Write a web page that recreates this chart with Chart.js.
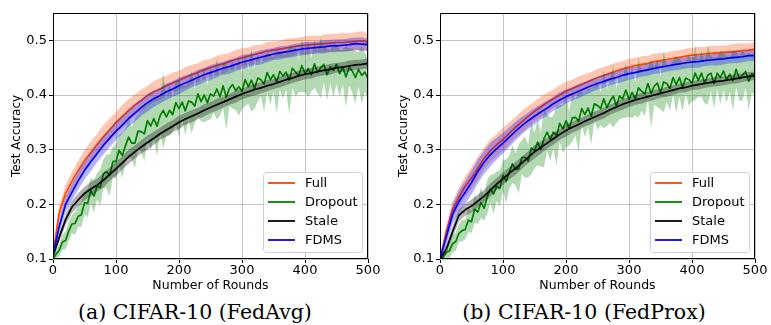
<!DOCTYPE html>
<html>
<head>
<meta charset="utf-8">
<script src="https://cdn.jsdelivr.net/npm/chart.js@4.4.1/dist/chart.umd.min.js"></script>
<style>
  html, body { margin: 0; padding: 0; background: #fff; }
  #wrap { position: relative; width: 771px; height: 325px; overflow: hidden; background: #fff; }
  canvas { position: absolute; top: 0; }
  #cvA { left: 0; }
  #cvB { left: 387px; }
  .caption { position: absolute; top: 301px; width: 300px; text-align: center; line-height: 22px;
    font-family: "DejaVu Serif", serif; font-size: 20.5px; color: #000; white-space: nowrap; }
</style>
</head>
<body>
<div id="wrap">
  <canvas id="cvA" width="385" height="300"></canvas>
  <canvas id="cvB" width="384" height="300"></canvas>
  <div class="caption" style="left:45px">(a) CIFAR-10 (FedAvg)</div>
  <div class="caption" style="left:434px">(b) CIFAR-10 (FedProx)</div>
</div>
<script>
// rounds sampled every 10 (smooth curves) and every 5 (noisy dropout curve)
const rounds = [
  0, 10, 20, 30, 40, 50, 60, 70, 80, 90,
  100, 110, 120, 130, 140, 150, 160, 170, 180, 190,
  200, 210, 220, 230, 240, 250, 260, 270, 280, 290,
  300, 310, 320, 330, 340, 350, 360, 370, 380, 390,
  400, 410, 420, 430, 440, 450, 460, 470, 480, 490,
  500];
const roundsFine = [
  0, 5, 10, 15, 20, 25, 30, 35, 40, 45,
  50, 55, 60, 65, 70, 75, 80, 85, 90, 95,
  100, 105, 110, 115, 120, 125, 130, 135, 140, 145,
  150, 155, 160, 165, 170, 175, 180, 185, 190, 195,
  200, 205, 210, 215, 220, 225, 230, 235, 240, 245,
  250, 255, 260, 265, 270, 275, 280, 285, 290, 295,
  300, 305, 310, 315, 320, 325, 330, 335, 340, 345,
  350, 355, 360, 365, 370, 375, 380, 385, 390, 395,
  400, 405, 410, 415, 420, 425, 430, 435, 440, 445,
  450, 455, 460, 465, 470, 475, 480, 485, 490, 495,
  500];

const xTicks = [0, 100, 200, 300, 400, 500];
const yTicks = [0.1, 0.2, 0.3, 0.4, 0.5];

const seriesNames = ['Full', 'Dropout', 'Stale', 'FDMS'];
const lineColors = ['#ff4500', '#008000', '#000000', '#0000ff'];
const bandColors = ['rgba(255,69,0,0.3)', 'rgba(0,128,0,0.3)', 'rgba(0,0,0,0.3)', 'rgba(0,0,255,0.3)'];

// ---- (a) FedAvg ----
const avgFull = [
  0.110, 0.185, 0.220, 0.242, 0.262, 0.280, 0.295, 0.310, 0.324, 0.337,
  0.350, 0.361, 0.372, 0.382, 0.390, 0.399, 0.406, 0.411, 0.417, 0.422,
  0.427, 0.432, 0.437, 0.441, 0.446, 0.450, 0.454, 0.457, 0.461, 0.465,
  0.468, 0.471, 0.474, 0.477, 0.480, 0.482, 0.484, 0.486, 0.488, 0.490,
  0.491, 0.492, 0.493, 0.494, 0.495, 0.496, 0.496, 0.497, 0.498, 0.499,
  0.497];
const avgFullStd = [
  0.006, 0.014, 0.016, 0.017, 0.018, 0.019, 0.020, 0.019, 0.021, 0.020,
  0.019, 0.021, 0.020, 0.019, 0.020, 0.018, 0.019, 0.020, 0.018, 0.019,
  0.017, 0.019, 0.018, 0.017, 0.018, 0.016, 0.018, 0.017, 0.016, 0.018,
  0.017, 0.016, 0.017, 0.015, 0.017, 0.016, 0.015, 0.017, 0.016, 0.015,
  0.016, 0.017, 0.015, 0.016, 0.017, 0.016, 0.018, 0.016, 0.017, 0.018,
  0.016];
const avgDropout = [
  0.100, 0.109, 0.116, 0.131, 0.134, 0.151, 0.164, 0.165, 0.178, 0.181,
  0.203, 0.202, 0.225, 0.215, 0.233, 0.231, 0.256, 0.260, 0.253, 0.278,
  0.279, 0.299, 0.289, 0.307, 0.323, 0.312, 0.312, 0.334, 0.333, 0.329,
  0.353, 0.343, 0.357, 0.343, 0.362, 0.372, 0.360, 0.372, 0.364, 0.386,
  0.375, 0.387, 0.371, 0.389, 0.387, 0.380, 0.402, 0.388, 0.400, 0.386,
  0.402, 0.398, 0.411, 0.397, 0.417, 0.396, 0.412, 0.419, 0.408, 0.415,
  0.407, 0.428, 0.415, 0.427, 0.412, 0.431, 0.428, 0.420, 0.441, 0.428,
  0.437, 0.424, 0.443, 0.435, 0.442, 0.427, 0.449, 0.442, 0.435, 0.454,
  0.439, 0.448, 0.437, 0.457, 0.441, 0.450, 0.456, 0.437, 0.452, 0.445,
  0.456, 0.439, 0.451, 0.433, 0.451, 0.444, 0.432, 0.447, 0.436, 0.442,
  0.430];
const avgDropoutStd = [
  0.004, 0.008, 0.011, 0.014, 0.016, 0.018, 0.017, 0.021, 0.019, 0.023,
  0.021, 0.026, 0.023, 0.030, 0.024, 0.033, 0.026, 0.031, 0.038, 0.027,
  0.032, 0.028, 0.041, 0.030, 0.036, 0.029, 0.046, 0.031, 0.038, 0.050,
  0.030, 0.044, 0.033, 0.055, 0.032, 0.070, 0.034, 0.047, 0.031, 0.040,
  0.052, 0.030, 0.045, 0.034, 0.058, 0.031, 0.042, 0.036, 0.050, 0.032,
  0.047, 0.030, 0.056, 0.035, 0.041, 0.060, 0.032, 0.044, 0.036, 0.053,
  0.033, 0.048, 0.031, 0.057, 0.037, 0.043, 0.030, 0.051, 0.035, 0.046,
  0.031, 0.058, 0.034, 0.042, 0.032, 0.062, 0.036, 0.045, 0.030, 0.049,
  0.034, 0.052, 0.031, 0.044, 0.038, 0.055, 0.033, 0.047, 0.030, 0.050,
  0.036, 0.043, 0.032, 0.056, 0.034, 0.041, 0.048, 0.031, 0.053, 0.035,
  0.040];
const avgStale = [
  0.105, 0.140, 0.172, 0.195, 0.208, 0.220, 0.228, 0.235, 0.244, 0.255,
  0.265, 0.276, 0.287, 0.296, 0.305, 0.313, 0.321, 0.329, 0.336, 0.343,
  0.350, 0.356, 0.361, 0.366, 0.372, 0.377, 0.382, 0.387, 0.392, 0.397,
  0.402, 0.406, 0.410, 0.413, 0.417, 0.420, 0.424, 0.428, 0.431, 0.435,
  0.438, 0.440, 0.443, 0.445, 0.447, 0.450, 0.451, 0.453, 0.455, 0.456,
  0.458];
const avgStaleStd = [
  0.004, 0.008, 0.010, 0.011, 0.012, 0.012, 0.013, 0.012, 0.013, 0.012,
  0.013, 0.012, 0.013, 0.012, 0.012, 0.013, 0.012, 0.011, 0.012, 0.011,
  0.012, 0.011, 0.011, 0.010, 0.011, 0.010, 0.011, 0.010, 0.010, 0.011,
  0.010, 0.010, 0.011, 0.010, 0.010, 0.009, 0.010, 0.010, 0.009, 0.010,
  0.009, 0.010, 0.009, 0.009, 0.010, 0.009, 0.009, 0.010, 0.009, 0.009,
  0.009];
const avgFdms = [
  0.108, 0.160, 0.200, 0.222, 0.243, 0.262, 0.278, 0.293, 0.308, 0.321,
  0.334, 0.345, 0.357, 0.367, 0.377, 0.386, 0.393, 0.399, 0.406, 0.411,
  0.417, 0.422, 0.427, 0.432, 0.437, 0.441, 0.445, 0.449, 0.452, 0.456,
  0.460, 0.463, 0.466, 0.469, 0.472, 0.475, 0.477, 0.479, 0.481, 0.483,
  0.485, 0.486, 0.487, 0.488, 0.490, 0.490, 0.491, 0.492, 0.494, 0.493,
  0.492];
const avgFdmsStd = [
  0.005, 0.012, 0.014, 0.015, 0.016, 0.016, 0.017, 0.016, 0.017, 0.016,
  0.017, 0.016, 0.015, 0.016, 0.015, 0.016, 0.015, 0.014, 0.015, 0.014,
  0.015, 0.014, 0.013, 0.014, 0.013, 0.014, 0.013, 0.012, 0.013, 0.012,
  0.013, 0.012, 0.012, 0.013, 0.012, 0.011, 0.012, 0.011, 0.012, 0.011,
  0.012, 0.011, 0.011, 0.012, 0.011, 0.012, 0.011, 0.012, 0.011, 0.012,
  0.011];

// ---- (b) FedProx ----
const proxFull = [
  0.100, 0.150, 0.190, 0.213, 0.233, 0.248, 0.266, 0.284, 0.298, 0.309,
  0.319, 0.330, 0.341, 0.351, 0.361, 0.370, 0.378, 0.386, 0.393, 0.400,
  0.407, 0.412, 0.417, 0.422, 0.427, 0.432, 0.436, 0.440, 0.444, 0.448,
  0.451, 0.454, 0.456, 0.458, 0.461, 0.463, 0.465, 0.467, 0.469, 0.471,
  0.473, 0.474, 0.475, 0.476, 0.477, 0.478, 0.479, 0.480, 0.481, 0.482,
  0.484];
const proxFullStd = [
  0.005, 0.013, 0.016, 0.018, 0.019, 0.020, 0.021, 0.020, 0.021, 0.020,
  0.021, 0.020, 0.019, 0.020, 0.019, 0.018, 0.019, 0.018, 0.017, 0.018,
  0.017, 0.016, 0.017, 0.016, 0.015, 0.016, 0.015, 0.016, 0.015, 0.014,
  0.015, 0.014, 0.015, 0.014, 0.015, 0.014, 0.013, 0.014, 0.013, 0.014,
  0.013, 0.014, 0.013, 0.014, 0.013, 0.012, 0.013, 0.014, 0.013, 0.012,
  0.013];
const proxDropout = [
  0.100, 0.103, 0.112, 0.115, 0.128, 0.132, 0.147, 0.152, 0.154, 0.171,
  0.168, 0.191, 0.186, 0.203, 0.193, 0.214, 0.228, 0.219, 0.233, 0.229,
  0.253, 0.242, 0.259, 0.274, 0.264, 0.265, 0.286, 0.286, 0.279, 0.303,
  0.298, 0.314, 0.300, 0.320, 0.332, 0.319, 0.332, 0.326, 0.348, 0.338,
  0.353, 0.339, 0.358, 0.359, 0.352, 0.375, 0.364, 0.376, 0.361, 0.384,
  0.381, 0.375, 0.393, 0.377, 0.389, 0.398, 0.380, 0.398, 0.393, 0.409,
  0.392, 0.405, 0.393, 0.413, 0.407, 0.402, 0.421, 0.403, 0.416, 0.422,
  0.404, 0.424, 0.421, 0.412, 0.432, 0.419, 0.432, 0.414, 0.431, 0.428,
  0.422, 0.440, 0.427, 0.440, 0.422, 0.436, 0.440, 0.421, 0.440, 0.432,
  0.444, 0.428, 0.438, 0.426, 0.447, 0.430, 0.436, 0.443, 0.425, 0.439,
  0.436];
const proxDropoutStd = [
  0.004, 0.007, 0.010, 0.013, 0.015, 0.017, 0.016, 0.020, 0.018, 0.022,
  0.020, 0.025, 0.022, 0.028, 0.023, 0.031, 0.025, 0.036, 0.027, 0.033,
  0.028, 0.040, 0.030, 0.035, 0.029, 0.045, 0.031, 0.038, 0.030, 0.048,
  0.032, 0.042, 0.031, 0.052, 0.034, 0.040, 0.030, 0.055, 0.033, 0.044,
  0.049, 0.031, 0.043, 0.033, 0.056, 0.030, 0.041, 0.035, 0.051, 0.032,
  0.045, 0.030, 0.054, 0.034, 0.040, 0.058, 0.031, 0.043, 0.035, 0.050,
  0.032, 0.047, 0.030, 0.055, 0.036, 0.042, 0.029, 0.063, 0.034, 0.045,
  0.030, 0.056, 0.033, 0.041, 0.031, 0.052, 0.035, 0.044, 0.029, 0.048,
  0.033, 0.050, 0.030, 0.043, 0.037, 0.054, 0.032, 0.046, 0.029, 0.049,
  0.035, 0.042, 0.031, 0.055, 0.033, 0.040, 0.047, 0.030, 0.052, 0.034,
  0.038];
const proxStale = [
  0.100, 0.118, 0.150, 0.180, 0.190, 0.197, 0.206, 0.215, 0.226, 0.237,
  0.247, 0.257, 0.266, 0.276, 0.286, 0.296, 0.304, 0.312, 0.320, 0.328,
  0.335, 0.341, 0.346, 0.352, 0.357, 0.362, 0.367, 0.373, 0.378, 0.383,
  0.387, 0.391, 0.394, 0.397, 0.400, 0.403, 0.406, 0.409, 0.412, 0.414,
  0.417, 0.419, 0.421, 0.423, 0.425, 0.426, 0.428, 0.430, 0.432, 0.434,
  0.435];
const proxStaleStd = [
  0.004, 0.008, 0.010, 0.011, 0.011, 0.012, 0.012, 0.011, 0.012, 0.011,
  0.012, 0.011, 0.012, 0.011, 0.011, 0.012, 0.011, 0.010, 0.011, 0.010,
  0.011, 0.010, 0.010, 0.009, 0.010, 0.009, 0.010, 0.009, 0.009, 0.010,
  0.009, 0.009, 0.010, 0.009, 0.009, 0.008, 0.009, 0.009, 0.008, 0.009,
  0.008, 0.009, 0.008, 0.008, 0.009, 0.008, 0.008, 0.009, 0.008, 0.008,
  0.008];
const proxFdms = [
  0.100, 0.140, 0.182, 0.205, 0.222, 0.240, 0.260, 0.277, 0.291, 0.302,
  0.312, 0.323, 0.334, 0.344, 0.353, 0.361, 0.369, 0.376, 0.384, 0.391,
  0.397, 0.402, 0.407, 0.412, 0.417, 0.421, 0.425, 0.429, 0.432, 0.436,
  0.439, 0.441, 0.444, 0.446, 0.449, 0.451, 0.453, 0.455, 0.457, 0.459,
  0.460, 0.461, 0.463, 0.464, 0.465, 0.466, 0.468, 0.469, 0.470, 0.472,
  0.472];
const proxFdmsStd = [
  0.005, 0.014, 0.018, 0.020, 0.021, 0.022, 0.022, 0.021, 0.022, 0.020,
  0.019, 0.018, 0.017, 0.016, 0.015, 0.015, 0.014, 0.014, 0.013, 0.014,
  0.013, 0.012, 0.013, 0.012, 0.012, 0.011, 0.012, 0.011, 0.011, 0.012,
  0.011, 0.011, 0.010, 0.011, 0.010, 0.011, 0.010, 0.010, 0.011, 0.010,
  0.010, 0.011, 0.010, 0.010, 0.011, 0.010, 0.010, 0.011, 0.010, 0.010,
  0.010];

function pts(xs, ys) {
  return xs.map((x, i) => ({ x, y: ys[i] }));
}

// band (mean +/- std) then the mean line, for each series in legend order
function buildDatasets(list) {
  const sets = [];
  list.forEach((s, k) => {
    const base = (list.length - k) * 3;
    const lo = s.mean.map((m, i) => m - s.std[i]);
    const hi = s.mean.map((m, i) => m + s.std[i]);
    sets.push({
      data: pts(s.x, lo), borderColor: 'rgba(0,0,0,0)', borderWidth: 0,
      pointRadius: 0, fill: false, order: base + 2
    });
    sets.push({
      data: pts(s.x, hi), borderColor: 'rgba(0,0,0,0)', borderWidth: 0,
      pointRadius: 0, fill: '-1', backgroundColor: bandColors[k], order: base + 1
    });
    sets.push({
      label: seriesNames[k], data: pts(s.x, s.mean), borderColor: lineColors[k],
      borderWidth: 1.7, borderJoinStyle: 'round', pointRadius: 0, fill: false, order: base
    });
  });
  return sets;
}

const framePlugin = {
  id: 'frame',
  afterDatasetsDraw(chart) {
    const { ctx, chartArea: a } = chart;
    ctx.save();
    ctx.strokeStyle = '#000';
    ctx.lineWidth = 1;
    ctx.strokeRect(a.left + 0.5, a.top + 0.5, a.right - a.left - 1, a.bottom - a.top - 1);
    ctx.restore();
  }
};

const innerLegend = {
  id: 'innerLegend',
  afterDraw(chart) {
    const { ctx, chartArea: a } = chart;
    const w = 99, h = 80;
    const x0 = a.right - 6 - w, y0 = a.bottom - 7 - h;
    ctx.save();
    ctx.beginPath();
    ctx.roundRect(x0 + 0.5, y0 + 0.5, w, h, 3);
    ctx.fillStyle = 'rgba(255,255,255,0.8)';
    ctx.fill();
    ctx.strokeStyle = '#d0d0d0';
    ctx.lineWidth = 1;
    ctx.stroke();
    ctx.font = '13px "DejaVu Sans"';
    ctx.textBaseline = 'middle';
    seriesNames.forEach((name, i) => {
      const y = y0 + 11 + i * 19;
      ctx.beginPath();
      ctx.moveTo(x0 + 5, y);
      ctx.lineTo(x0 + 32, y);
      ctx.strokeStyle = lineColors[i];
      ctx.lineWidth = 1.8;
      ctx.stroke();
      ctx.fillStyle = '#000';
      ctx.fillText(name, x0 + 42, y + 1);
    });
    ctx.restore();
  }
};

function makeChart(id, rightPad, list) {
  return new Chart(document.getElementById(id), {
    type: 'line',
    data: { datasets: buildDatasets(list) },
    options: {
      responsive: false,
      animation: false,
      events: [],
      layout: { padding: { left: 6, top: 13, right: rightPad, bottom: 3 } },
      plugins: {
        legend: { display: false },
        tooltip: { enabled: false },
        filler: { drawTime: 'beforeDatasetDraw' }
      },
      scales: {
        x: {
          type: 'linear', min: 0, max: 500,
          afterBuildTicks: s => { s.ticks = xTicks.map(v => ({ value: v })); },
          afterFit: s => { s.height = 38; },
          ticks: { color: '#000', font: { family: 'DejaVu Sans', size: 13 }, padding: 0, maxRotation: 0,
            callback: v => String(v) },
          grid: { color: '#c4c4c4', lineWidth: 1, tickLength: 4, tickColor: '#000', tickWidth: 1 },
          border: { display: false },
          title: { display: true, text: 'Number of Rounds', color: '#000',
            font: { family: 'DejaVu Sans', size: 12.5 }, padding: { top: 4, bottom: 4 } }
        },
        y: {
          type: 'linear', min: 0.1, max: 0.55,
          afterBuildTicks: s => { s.ticks = yTicks.map(v => ({ value: v })); },
          afterFit: s => { s.width = 47; },
          ticks: { color: '#000', font: { family: 'DejaVu Sans', size: 13 }, padding: 2,
            callback: v => v.toFixed(1) },
          grid: { color: '#c4c4c4', lineWidth: 1, tickLength: 4, tickColor: '#000', tickWidth: 1 },
          border: { display: false },
          title: { display: true, text: 'Test Accuracy', color: '#000',
            font: { family: 'DejaVu Sans', size: 12 }, padding: { top: 4, bottom: 4 } }
        }
      }
    },
    plugins: [framePlugin, innerLegend]
  });
}

makeChart('cvA', 17, [
  { x: rounds, mean: avgFull, std: avgFullStd },
  { x: roundsFine, mean: avgDropout, std: avgDropoutStd },
  { x: rounds, mean: avgStale, std: avgStaleStd },
  { x: rounds, mean: avgFdms, std: avgFdmsStd }
]);

makeChart('cvB', 16, [
  { x: rounds, mean: proxFull, std: proxFullStd },
  { x: roundsFine, mean: proxDropout, std: proxDropoutStd },
  { x: rounds, mean: proxStale, std: proxStaleStd },
  { x: rounds, mean: proxFdms, std: proxFdmsStd }
]);
</script>
</body>
</html>
